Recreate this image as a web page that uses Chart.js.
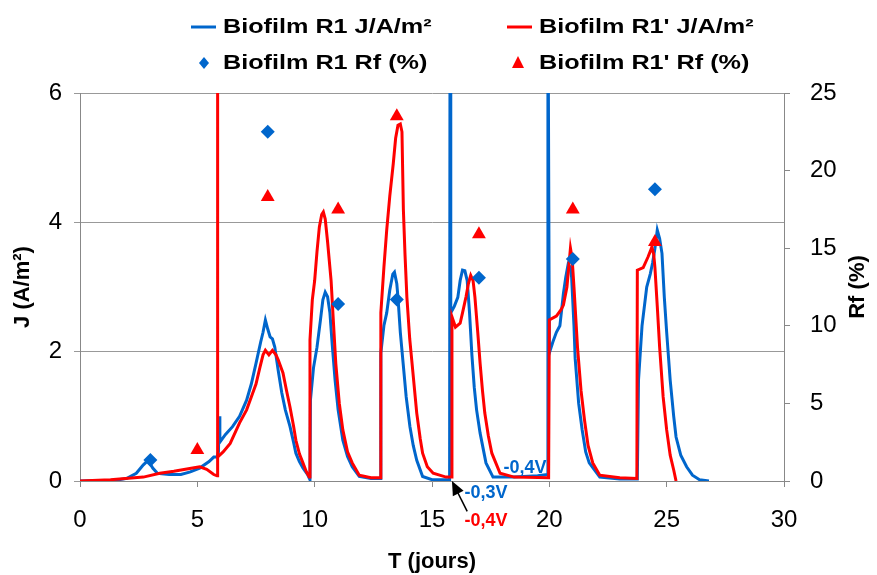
<!DOCTYPE html>
<html>
<head>
<meta charset="utf-8">
<script src="https://cdn.jsdelivr.net/npm/chart.js@4.4.1/dist/chart.umd.min.js"></script>
<style>
  html, body { margin: 0; padding: 0; background: #fff; }
</style>
</head>
<body>
<canvas id="myChart" width="877" height="575"></canvas>
<script>
// time (days) and current density, biofilm R1
var r1T = [0, 1.5, 2.0, 2.4, 2.7, 2.9, 3.1, 3.3, 3.8, 4.3, 4.7, 5.1, 5.5, 5.7, 5.85, 5.9, 5.93, 5.96,
  6.2, 6.5, 6.8, 7.1, 7.3, 7.5, 7.7, 7.8, 7.9, 8.0, 8.1, 8.2, 8.3, 8.45, 8.6, 8.75, 8.95, 9.1, 9.2, 9.35, 9.5, 9.7, 9.8,
  9.82, 9.95, 10.1, 10.25, 10.35, 10.45, 10.55, 10.65, 10.75, 10.87, 11.0, 11.2, 11.4, 11.6, 11.9, 12.4, 12.8,
  12.82, 12.95, 13.07, 13.2, 13.33, 13.4, 13.5, 13.55, 13.65, 13.77, 13.9, 14.06, 14.2, 14.35, 14.6, 15.0, 15.5, 15.75,
  15.77, 15.8, 15.95, 16.1, 16.2, 16.3, 16.4, 16.5, 16.6, 16.7, 16.8, 16.9, 17.05, 17.3, 17.6, 18.5, 19.5, 19.93,
  19.94, 20.0, 20.15, 20.3, 20.45, 20.6, 20.7, 20.8, 20.9, 20.95, 21.05, 21.1, 21.25, 21.4, 21.55, 21.7, 22.15, 23.0, 23.75,
  23.8, 23.95, 24.15, 24.3, 24.4, 24.5, 24.6, 24.7, 24.8, 24.9, 25.0, 25.15, 25.3, 25.4, 25.6, 25.85, 26.1, 26.4, 26.8];
var r1J = [0, 0.01, 0.04, 0.12, 0.25, 0.32, 0.2, 0.12, 0.1, 0.1, 0.14, 0.2, 0.3, 0.37, 0.37, 0.45, 1.0, 0.6,
  0.72, 0.84, 1.0, 1.25, 1.5, 1.82, 2.15, 2.3, 2.49, 2.35, 2.23, 2.2, 2.07, 1.7, 1.36, 1.1, 0.84, 0.6, 0.43, 0.3, 0.2, 0.1, 0.02,
  1.25, 1.75, 2.07, 2.5, 2.8, 2.92, 2.85, 2.6, 2.1, 1.56, 1.1, 0.63, 0.38, 0.22, 0.07, 0.04, 0.04,
  1.98, 2.4, 2.6, 2.95, 3.2, 3.23, 3.05, 2.84, 2.3, 1.82, 1.3, 0.84, 0.55, 0.32, 0.07, 0.02, 0.02, 0.02,
  8, 2.6, 2.7, 2.84, 3.1, 3.26, 3.25, 3.1, 2.6, 1.95, 1.45, 1.1, 0.74, 0.28, 0.06, 0.06, 0.08, 0.1,
  8, 1.98, 2.15, 2.3, 2.4, 2.9, 3.15, 3.35, 3.3, 3.15, 2.4, 1.9, 1.2, 0.79, 0.45, 0.28, 0.06, 0.03, 0.03,
  1.56, 2.4, 3.0, 3.2, 3.37, 3.6, 3.88, 3.75, 3.52, 2.84, 2.3, 1.56, 1.0, 0.68, 0.4, 0.22, 0.09, 0.02, 0];

// time (days) and current density, biofilm R1'
var r1pT = [0, 1.3, 2.7, 3.4, 4.0, 4.8, 5.1, 5.4, 5.7, 5.84, 5.85, 5.88,
  6.1, 6.4, 6.8, 7.1, 7.3, 7.5, 7.67, 7.8, 7.9, 8.05, 8.2, 8.35, 8.45, 8.65, 8.8, 8.95, 9.1, 9.2, 9.35, 9.5, 9.65, 9.77,
  9.8, 9.9, 10.0, 10.1, 10.2, 10.3, 10.37, 10.45, 10.55, 10.7, 10.8, 10.9, 11.05, 11.2, 11.4, 11.6, 11.9, 12.4, 12.8,
  12.82, 12.95, 13.07, 13.2, 13.35, 13.45, 13.55, 13.65, 13.72, 13.78, 13.85, 13.93, 14.05, 14.15, 14.35, 14.5, 14.6, 14.8, 15.05, 15.6, 15.84,
  15.85, 16.0, 16.2, 16.3, 16.45, 16.55, 16.65, 16.75, 16.83, 16.95, 17.05, 17.15, 17.25, 17.4, 17.55, 17.9, 18.5, 19.97,
  20.0, 20.3, 20.5, 20.6, 20.75, 20.85, 20.9, 20.97, 21.05, 21.2, 21.35, 21.5, 21.65, 21.85, 22.15, 23.0, 23.73,
  23.75, 24.0, 24.2, 24.3, 24.37, 24.45, 24.5, 24.6, 24.7, 24.85, 25.0, 25.15, 25.3, 25.4];
var r1pJ = [0, 0.02, 0.06, 0.12, 0.15, 0.2, 0.22, 0.18, 0.1, 0.08, 8, 0.37,
  0.45, 0.58, 0.9, 1.1, 1.3, 1.5, 1.76, 1.95, 2.02, 1.95, 2.02, 1.95, 1.87, 1.67, 1.4, 1.14, 0.85, 0.63, 0.42, 0.28, 0.14, 0.06,
  2.18, 2.8, 3.1, 3.55, 3.93, 4.12, 4.16, 4.05, 3.7, 3.1, 2.45, 1.82, 1.2, 0.79, 0.45, 0.28, 0.09, 0.05, 0.05,
  2.6, 3.3, 3.88, 4.4, 4.91, 5.3, 5.5, 5.52, 5.4, 4.2, 3.5, 2.84, 2.2, 1.82, 1.05, 0.65, 0.43, 0.22, 0.12, 0.06, 0.06,
  2.54, 2.38, 2.44, 2.6, 2.85, 3.05, 3.18, 3.1, 2.84, 2.3, 1.82, 1.4, 1.05, 0.7, 0.43, 0.12, 0.06, 0.05,
  2.49, 2.55, 2.65, 2.72, 3.0, 3.4, 3.6, 3.45, 3.0, 2.07, 1.4, 0.94, 0.55, 0.28, 0.09, 0.05, 0.04,
  3.26, 3.3, 3.46, 3.55, 3.62, 3.5, 3.3, 2.7, 2.07, 1.3, 0.79, 0.4, 0.17, 0];

// Rf (%) markers
var rfT1 = [3, 8, 11, 13.5, 17, 21, 24.5];
var rfR1 = [1.35, 22.5, 11.4, 11.7, 13.1, 14.3, 18.8];
var rfT2 = [5, 8, 11, 13.5, 17, 21, 24.5];
var rfR2 = [2.0, 18.3, 17.5, 23.5, 15.9, 17.5, 15.4];

var BLUE = "#0066CC";
var RED = "#FF0000";

function pts(xs, ys) {
  return xs.map(function (x, i) { return { x: x, y: ys[i] }; });
}

var legendItems = [
  { text: "Biofilm R1 J/A/m\u00b2", kind: "line", color: BLUE, x: 191, y: 27 },
  { text: "Biofilm R1' J/A/m\u00b2", kind: "line", color: RED, x: 507, y: 27 },
  { text: "Biofilm R1 Rf (%)", kind: "diamond", color: BLUE, x: 191, y: 63 },
  { text: "Biofilm R1' Rf (%)", kind: "triangle", color: RED, x: 507, y: 63 }
];

var extras = {
  id: "extras",
  afterDatasetsDraw: function (chart) {
    var ctx = chart.ctx;
    var xs = chart.scales.x, ys = chart.scales.y;
    ctx.save();
    ctx.font = "bold 18px 'Liberation Sans', Arial, sans-serif";
    ctx.textAlign = "center";
    ctx.textBaseline = "middle";
    ctx.fillStyle = BLUE;
    ctx.fillText("-0,4V", xs.getPixelForValue(18.96), ys.getPixelForValue(0.2));
    ctx.fillText("-0,3V", xs.getPixelForValue(17.3), ys.getPixelForValue(-0.19));
    ctx.fillStyle = RED;
    ctx.fillText("-0,4V", xs.getPixelForValue(17.3), ys.getPixelForValue(-0.62));
    // arrow
    var tx = xs.getPixelForValue(15.85), ty = ys.getPixelForValue(0);
    var sx = xs.getPixelForValue(16.5), sy = ys.getPixelForValue(-0.47);
    var ang = Math.atan2(ty - sy, tx - sx);
    ctx.strokeStyle = "#000";
    ctx.fillStyle = "#000";
    ctx.lineWidth = 1.5;
    ctx.beginPath();
    ctx.moveTo(sx, sy);
    ctx.lineTo(tx - 8 * Math.cos(ang), ty - 8 * Math.sin(ang));
    ctx.stroke();
    ctx.beginPath();
    ctx.moveTo(tx, ty);
    ctx.lineTo(tx - 14 * Math.cos(ang) + 6 * Math.sin(ang), ty - 14 * Math.sin(ang) - 6 * Math.cos(ang));
    ctx.lineTo(tx - 14 * Math.cos(ang) - 6 * Math.sin(ang), ty - 14 * Math.sin(ang) + 6 * Math.cos(ang));
    ctx.closePath();
    ctx.fill();
    ctx.restore();
  },
  afterDraw: function (chart) {
    var ctx = chart.ctx;
    ctx.save();
    // legend
    ctx.font = "bold 21px 'Liberation Sans', Arial, sans-serif";
    ctx.textBaseline = "middle";
    ctx.textAlign = "left";
    legendItems.forEach(function (it) {
      ctx.fillStyle = it.color;
      ctx.strokeStyle = it.color;
      if (it.kind === "line") {
        ctx.lineWidth = 3;
        ctx.beginPath();
        ctx.moveTo(it.x, it.y);
        ctx.lineTo(it.x + 25, it.y);
        ctx.stroke();
      } else if (it.kind === "diamond") {
        var cx = it.x + 13;
        ctx.beginPath();
        ctx.moveTo(cx, it.y - 6);
        ctx.lineTo(cx + 5, it.y);
        ctx.lineTo(cx, it.y + 6);
        ctx.lineTo(cx - 5, it.y);
        ctx.closePath();
        ctx.fill();
      } else {
        var cx2 = it.x + 11;
        ctx.beginPath();
        ctx.moveTo(cx2, it.y - 7);
        ctx.lineTo(cx2 + 6, it.y + 5);
        ctx.lineTo(cx2 - 6, it.y + 5);
        ctx.closePath();
        ctx.fill();
      }
      ctx.fillStyle = "#000";
      ctx.save();
      ctx.translate(it.x + 32, it.y);
      ctx.scale(1.2, 1);
      ctx.fillText(it.text, 0, 0);
      ctx.restore();
    });
    // right axis title, bottom-to-top like the left one
    var area = chart.chartArea;
    ctx.translate(858, (area.top + area.bottom) / 2);
    ctx.rotate(-Math.PI / 2);
    ctx.textAlign = "center";
    ctx.font = "bold 22px 'Liberation Sans', Arial, sans-serif";
    ctx.fillText("Rf (%)", 0, 0);
    ctx.restore();
  }
};

var tickFont = { family: "'Liberation Sans', Arial, sans-serif", size: 24 };
var titleFont = { family: "'Liberation Sans', Arial, sans-serif", size: 22, weight: "bold" };

new Chart("myChart", {
  type: "line",
  data: {
    datasets: [{
      data: pts(rfT1, rfR1),
      yAxisID: "y2",
      showLine: false,
      pointStyle: "rectRot",
      pointRadius: 7,
      backgroundColor: BLUE,
      borderColor: BLUE,
      borderWidth: 0,
      order: 0
    }, {
      data: pts(rfT2, rfR2),
      yAxisID: "y2",
      showLine: false,
      pointStyle: "triangle",
      pointRadius: 8,
      backgroundColor: RED,
      borderColor: RED,
      borderWidth: 0,
      order: 0
    }, {
      data: pts(r1pT, r1pJ),
      yAxisID: "y",
      borderColor: RED,
      borderWidth: 3,
      pointRadius: 0,
      tension: 0,
      fill: false,
      order: 1
    }, {
      data: pts(r1T, r1J),
      yAxisID: "y",
      borderColor: BLUE,
      borderWidth: 3,
      pointRadius: 0,
      tension: 0,
      fill: false,
      order: 2
    }]
  },
  options: {
    responsive: false,
    animation: false,
    layout: { padding: { top: 93, left: 0, right: 0, bottom: 0 } },
    plugins: {
      legend: { display: false },
      tooltip: { enabled: false }
    },
    scales: {
      x: {
        type: "linear",
        min: 0,
        max: 30,
        ticks: { stepSize: 5, color: "#000", font: tickFont, padding: 19 },
        grid: { drawOnChartArea: false, color: "#888", tickLength: 6 },
        border: { color: "#888" },
        title: { display: true, text: "T (jours)", color: "#000", font: titleFont, padding: { top: 0, bottom: 0 } },
        afterFit: function (s) { s.height = 94; }
      },
      y: {
        position: "left",
        min: 0,
        max: 6,
        ticks: { stepSize: 2, color: "#000", font: tickFont, padding: 12 },
        grid: { color: "#999", tickLength: 6 },
        border: { color: "#888" },
        title: { display: true, text: "J (A/m\u00b2)", color: "#000", font: titleFont, padding: { top: 10, bottom: 0 } },
        afterFit: function (s) { s.width = 80; }
      },
      y2: {
        position: "right",
        min: 0,
        max: 25,
        ticks: { stepSize: 5, color: "#000", font: tickFont, padding: 20 },
        grid: { drawOnChartArea: false, color: "#888", tickLength: 6 },
        border: { color: "#888" },
        afterFit: function (s) { s.width = 93; }
      }
    }
  },
  plugins: [extras]
});
</script>
</body>
</html>
